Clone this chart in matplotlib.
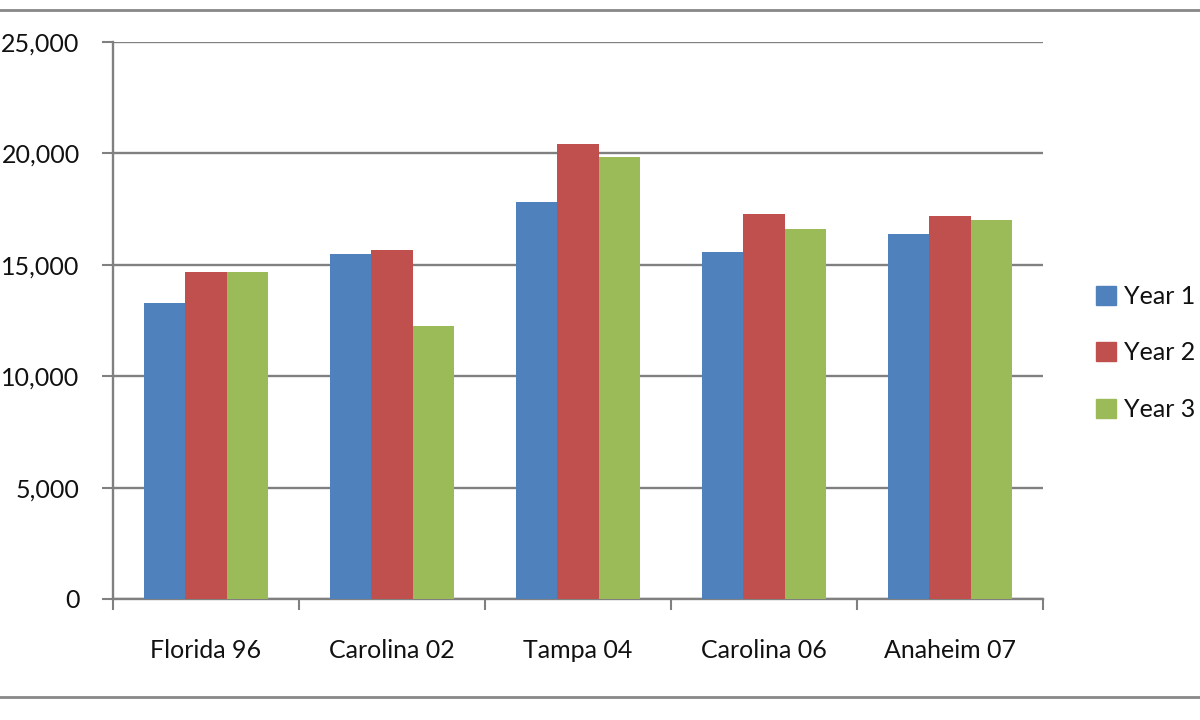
import matplotlib
matplotlib.use("Agg")
import matplotlib.pyplot as plt
import numpy as np
from matplotlib.lines import Line2D
from matplotlib.ticker import FuncFormatter, MultipleLocator

categories = ["Florida 96", "Carolina 02", "Tampa 04", "Carolina 06", "Anaheim 07"]
series_names = ["Year 1", "Year 2", "Year 3"]
year1 = [13270, 15470, 17800, 15570, 16380]
year2 = [14660, 15660, 20420, 17290, 17190]
year3 = [14660, 12250, 19820, 16590, 17000]
colors = ["#4F81BD", "#C0504D", "#9BBB59"]

plt.rcParams['font.family'] = ['Lato', 'DejaVu Sans']

fig = plt.figure(figsize=(12, 7.2), dpi=100)
ax = fig.add_axes([113/1200, 1 - 599/720, (1043-113)/1200, (599-42)/720])

x = np.arange(len(categories))
w = 1/4.5
for i, (vals, c, name) in enumerate(zip([year1, year2, year3], colors, series_names)):
    ax.bar(x + (i - 1) * w, vals, width=w, color=c, label=name, zorder=3)

ax.set_xlim(-0.5, len(categories) - 0.5)
ax.set_ylim(0, 25000)
ax.yaxis.set_major_locator(MultipleLocator(5000))
ax.yaxis.set_major_formatter(FuncFormatter(lambda v, p: f"{int(v):,}"))
ax.grid(axis='y', color='#808080', linewidth=1.7, zorder=0)
ax.set_axisbelow(True)

for s in ['top', 'right']:
    ax.spines[s].set_visible(False)
for s in ['left', 'bottom']:
    ax.spines[s].set_color('#808080')
    ax.spines[s].set_linewidth(1.7)

ax.set_xticks(x)
ax.set_xticklabels(categories, fontsize=18, color='#111111')
ax.tick_params(axis='x', length=0, pad=29)
ax.set_xticks(np.arange(-0.5, len(categories) + 0.5, 1), minor=True)
ax.tick_params(axis='x', which='minor', length=8, width=1.5, color='#808080', direction='out')
ax.tick_params(axis='y', length=8, width=1.5, color='#808080', direction='out', labelsize=18,
               labelcolor='#111111', pad=16)

leg = fig.legend(handles=[plt.Rectangle((0, 0), 1, 1, color=c) for c in colors], labels=series_names,
                 loc='center left', bbox_to_anchor=(1073/1200, 1 - 353/720), frameon=False,
                 fontsize=18, handlelength=0.8, handleheight=0.8, labelspacing=1.35, handletextpad=0.35)
for t in leg.get_texts():
    t.set_color('#111111')

fig.add_artist(Line2D([0, 1], [1 - 10/720, 1 - 10/720], color='#888888', linewidth=2, transform=fig.transFigure))
fig.add_artist(Line2D([0, 1], [1 - 697/720, 1 - 697/720], color='#888888', linewidth=2, transform=fig.transFigure))

fig.savefig("out.png", dpi=100)
